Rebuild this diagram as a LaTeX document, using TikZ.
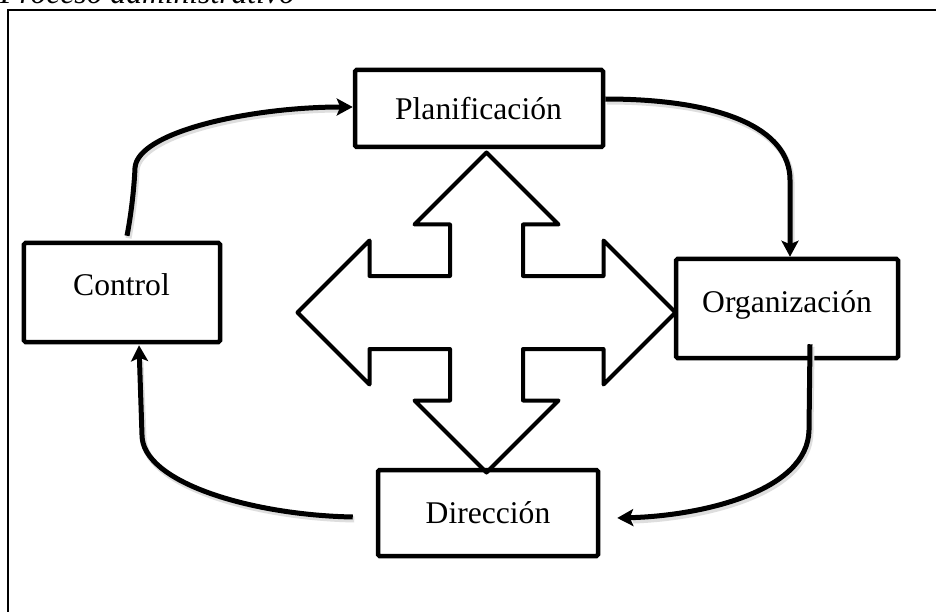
\documentclass[tikz,border=0pt]{standalone}
\usepackage{fontspec}
\setmainfont{Liberation Serif}
\usetikzlibrary{arrows.meta,calc}
\begin{document}
\begin{tikzpicture}[x=1bp,y=-1bp,
  box/.style={draw,line width=4.5bp,rounded corners=1.5bp,inner sep=0pt},
  lbl/.style={anchor=base,inner sep=0pt,font=\fontsize{31.6bp}{38bp}\selectfont},
  flow/.style={line width=5bp,-{Stealth[length=16bp,width=17bp,inset=3.5bp]}},
  shade/.style={line width=6bp,black!13},
  crossline/.style={line width=4bp,line join=round}]
\clip (0,0) rectangle (936,612);
\fill[white] (0,0) rectangle (936,612);
% title (cut off at the top, as in the reference) and frame
\node[anchor=base west,inner sep=0pt,font=\fontsize{31.6bp}{38bp}\selectfont\itshape] (title) at (0,4) {Proceso administrativo};
\draw[line width=2.5bp] (8,700) -- (8,10) -- (1000,10);
% boxes
\node[box,minimum width=248bp,minimum height=77bp] (plan) at (479,108.5) {};
\node[box,minimum width=196bp,minimum height=99bp] (ctrl) at (122,292.5) {};
\node[box,minimum width=222bp,minimum height=99bp] (org) at (787,308.5) {};
\node[box,minimum width=220bp,minimum height=86bp] (dir) at (488,513) {};
\node[lbl] (plantxt) at (478.5,120) {Planificación};
\node[lbl] (ctrltxt) at (121.5,295) {Control};
\node[lbl] (orgtxt) at (787,312) {Organización};
\node[lbl] (dirtxt) at (488,523) {Dirección};
% central four-way arrow
\begin{scope}[shift={(486.5,312.5)}]
\draw[crossline] (0,-160) -- (72,-88) -- (36.5,-88) -- (36.5,-36.5) -- (117,-36.5) -- (117,-72)
  -- (189,0) -- (117,72) -- (117,36.5) -- (36.5,36.5) -- (36.5,88) -- (72,88)
  -- (0,160) -- (-72,88) -- (-36.5,88) -- (-36.5,36.5) -- (-117,36.5) -- (-117,72)
  -- (-189,0) -- (-117,-72) -- (-117,-36.5) -- (-36.5,-36.5) -- (-36.5,-88) -- (-72,-88) -- cycle;
\end{scope}
% coordinates for the free ends
\coordinate (a1s) at ($(ctrl.north)+(5,-5)$);
\coordinate (a3s) at ($(org.south)+(23,-16)$);
\coordinate (a3e) at ($(dir.east)+(17,5)$);
\coordinate (a4s) at ($(dir.west)+(-23,4)$);
\coordinate (a4e) at ($(ctrl.south)+(17,1)$);
% shadows
\begin{scope}[transform canvas={shift={(1.5bp,-2.5bp)}}]
\draw[shade] (a1s) .. controls (131,215) and (134,190) .. (135,168) .. controls (137,132) and (250,107) .. ($(plan.west)+(-14,-1.5)$);
\draw[shade] ($(plan.east)+(0,-9.5)$) .. controls (720,99) and (790,128) .. (790,180) -- ($(org.north)+(3,-14)$);
\draw[shade] (a3s) -- (809,430) .. controls (808,492) and (700,516) .. ($(a3e)+(14,0)$);
\draw[shade] (a4s) .. controls (250,515) and (142,482) .. (142,435) -- ($(a4e)+(0,14)$);
\end{scope}
% flow arrows
\draw[flow] (a1s) .. controls (131,215) and (134,190) .. (135,168) .. controls (137,132) and (250,107) .. ($(plan.west)+(0,-1.5)$);
\draw[flow] ($(plan.east)+(0,-9.5)$) .. controls (720,99) and (790,128) .. (790,180) -- ($(org.north)+(3,0)$);
\draw[flow] (a3s) -- (809,430) .. controls (808,492) and (700,516) .. (a3e);
\draw[flow] (a4s) .. controls (250,515) and (142,482) .. (142,435) -- (a4e);
\end{tikzpicture}
\end{document}
